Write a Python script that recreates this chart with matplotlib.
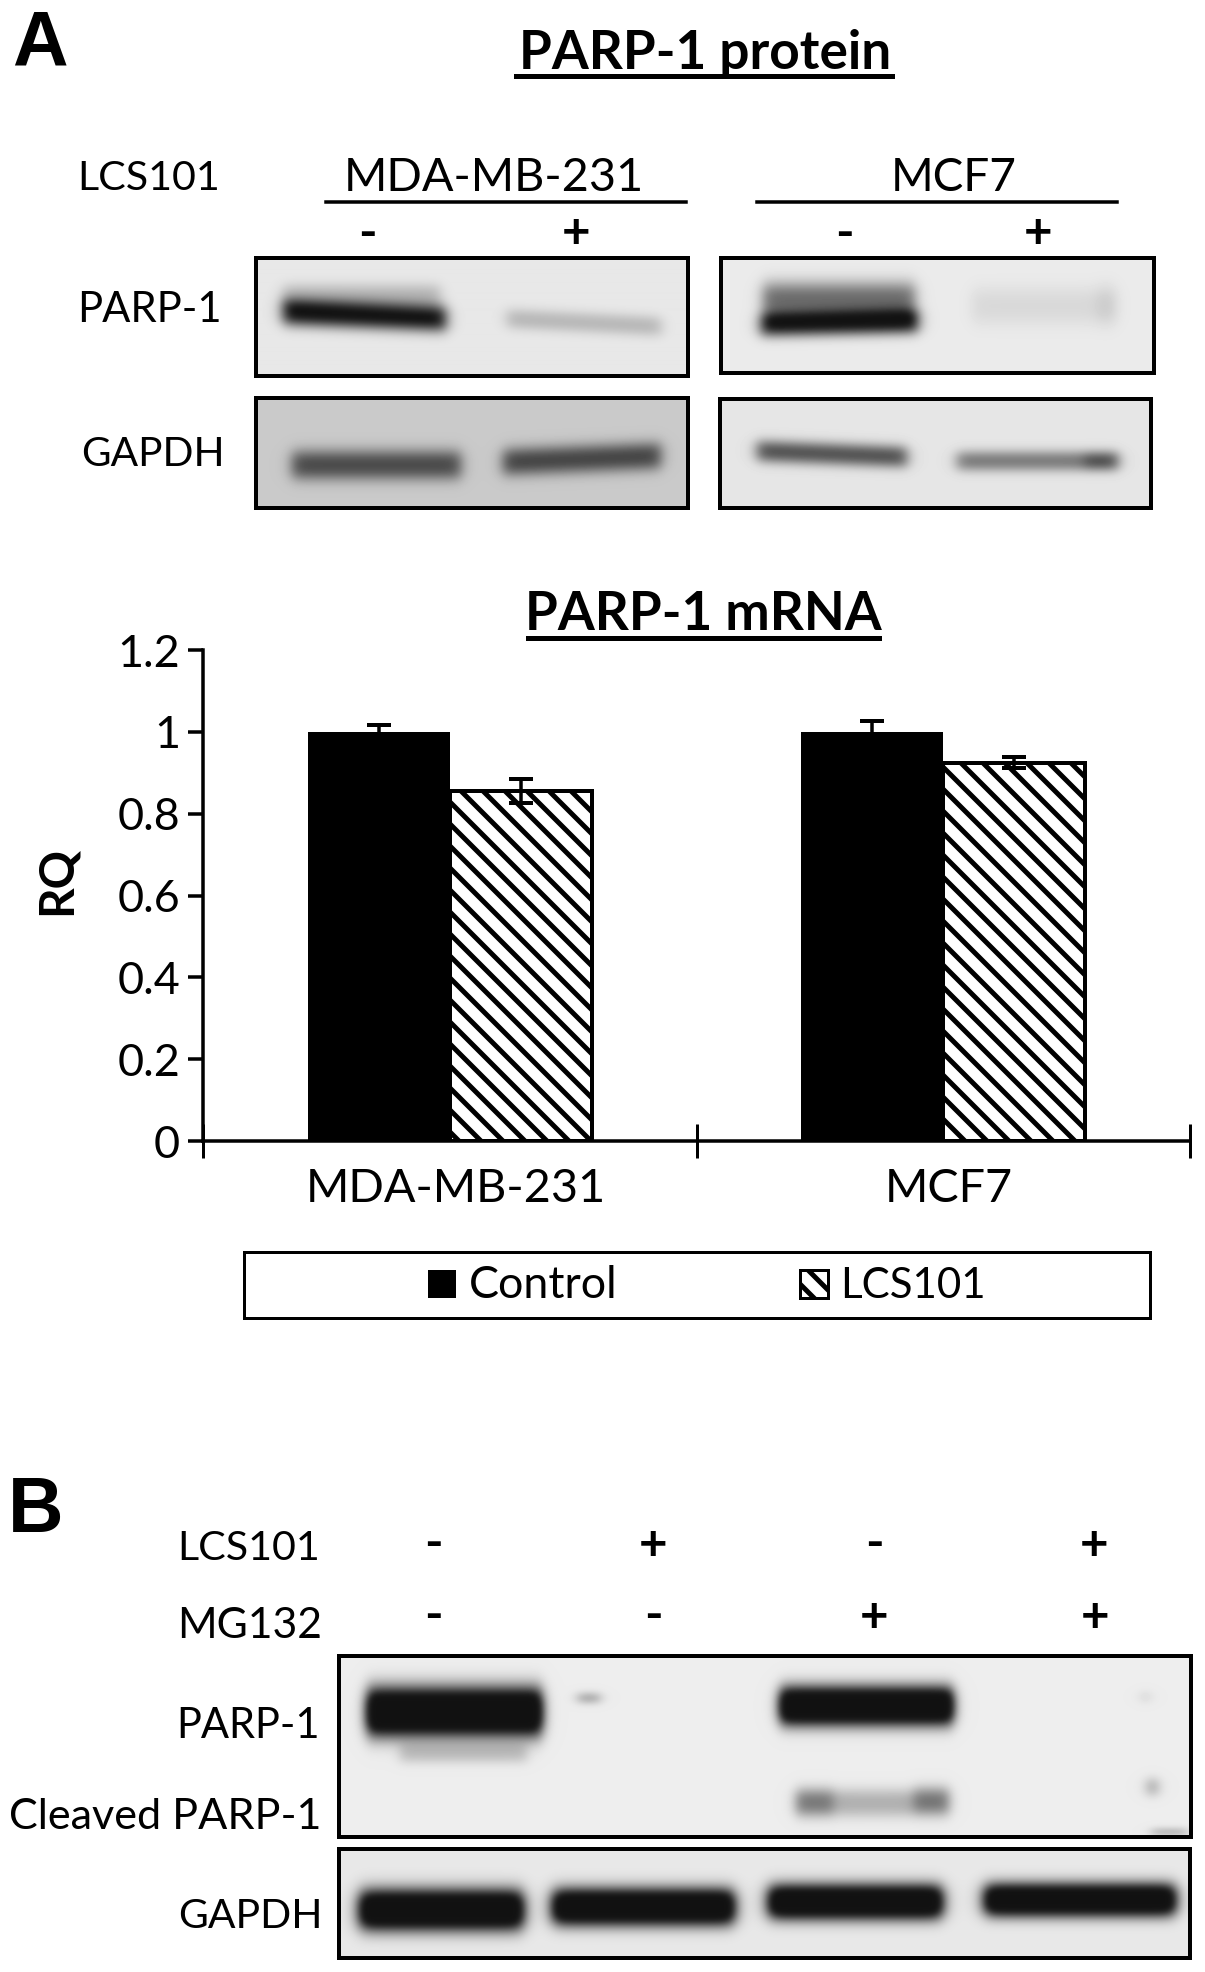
# Figura PARP-1: western blots y barras de mRNA
import numpy as np
import matplotlib
matplotlib.use('Agg')
import matplotlib.pyplot as plt
from matplotlib.patches import Rectangle
from matplotlib.transforms import ScaledTranslation

W, H = 1205, 1972
DPI = 132

plt.rcParams['font.family'] = ['Lato', 'DejaVu Sans']
plt.rcParams['hatch.linewidth'] = 2.7

# Datos de las barras
cell_lines = ['MDA-MB-231', 'MCF7']
control = [1.0, 1.0]
lcs101 = [0.855, 0.925]
control_err = [0.016, 0.026]
lcs101_err = [0.03, 0.014]
y_ticks = [0, 0.2, 0.4, 0.6, 0.8, 1.0, 1.2]
y_tick_labels = ['0', '0.2', '0.4', '0.6', '0.8', '1', '1.2']

# Bandas de los blots: x0, x1, y centro, semialtura, intensidad, inclinacion
a_parp_left = [(283, 446, 316, 13, 0.85, 0.04), (283, 440, 297, 12, 0.20, 0.0),
               (507, 661, 323, 10, 0.19, 0.05)]
a_parp_right = [(761, 918, 323, 12, 0.85, -0.02), (763, 915, 300, 18, 0.50, 0.0),
                (972, 1115, 306, 19, 0.07, 0.0), (1098, 1116, 305, 20, 0.06, 0.0)]
a_gapdh_left = [(292, 461, 465, 15, 0.50, 0.0), (503, 661, 459, 14, 0.52, -0.04)]
a_gapdh_right = [(757, 907, 454, 11, 0.58, 0.04), (957, 1118, 461, 10, 0.42, 0.0),
                 (1085, 1118, 461, 9, 0.18, 0.0)]
b_parp = [(367, 542, 1712, 24, 1.4, 0.0), (400, 527, 1753, 10, 0.18, 0.0),
          (578, 600, 1698, 5, 0.30, 0.0), (780, 953, 1706, 19, 1.4, 0.0),
          (796, 949, 1803, 14, 0.24, 0.0), (796, 833, 1802, 14, 0.22, 0.0),
          (914, 949, 1800, 14, 0.24, 0.0), (1147, 1158, 1787, 9, 0.28, 0.0),
          (1141, 1150, 1697, 6, 0.10, 0.0), (1152, 1187, 1832, 3, 0.30, 0.0)]
b_gapdh = [(360, 523, 1910, 20, 1.35, 0.0), (553, 734, 1907, 18, 1.35, 0.0),
           (769, 942, 1902, 17, 1.35, 0.0), (985, 1175, 1900, 16, 1.35, 0.0)]

fig = plt.figure(figsize=(W / DPI, H / DPI), dpi=DPI, facecolor='white')


def px_axes(x0, y0, x1, y1):
    # ejes colocados con pixeles de la imagen (y hacia abajo)
    return fig.add_axes([x0 / W, 1 - y1 / H, (x1 - x0) / W, (y1 - y0) / H])


def pt(px):
    return px * 72 / DPI


def soften(img, sigma=3.0):
    # desenfoque gaussiano en las dos direcciones
    r = int(3 * sigma)
    k = np.exp(-0.5 * (np.arange(-r, r + 1) / sigma) ** 2)
    k = k / k.sum()
    pad = np.pad(img, r, mode='edge')
    pad = np.apply_along_axis(lambda v: np.convolve(v, k, mode='same'), 0, pad)
    pad = np.apply_along_axis(lambda v: np.convolve(v, k, mode='same'), 1, pad)
    return pad[r:-r, r:-r]


def blot(box, bands, bg, blur=7.0):
    x0, y0, x1, y1 = box
    ax = px_axes(x0, y0, x1, y1)
    xx, yy = np.meshgrid(np.arange(x0, x1) + 0.5, np.arange(y0, y1) + 0.5)
    img = np.full(xx.shape, float(bg))
    for bx0, bx1, yc, hh, amp, tilt in bands:
        across = 0.5 * (np.tanh((xx - bx0) / blur) - np.tanh((xx - bx1) / blur))
        center = yc + tilt * (xx - (bx0 + bx1) / 2)
        along = np.exp(-np.abs((yy - center) / hh) ** 2.5)
        img = img - amp * across * along
    img = soften(np.clip(img, 0.07, 1))
    ax.imshow(img, cmap='gray', vmin=0, vmax=1, aspect='auto',
              extent=(x0, x1, y1, y0), interpolation='bilinear')
    ax.set_xticks([])
    ax.set_yticks([])
    for s in ax.spines.values():
        s.set_linewidth(pt(4))
        s.set_edgecolor('black')
    return ax


blot((256, 258, 688, 376), a_parp_left, 0.91)
blot((721, 258, 1154, 373), a_parp_right, 0.92)
blot((256, 398, 688, 508), a_gapdh_left, 0.79)
blot((720, 399, 1151, 508), a_gapdh_right, 0.90)
blot((339, 1656, 1191, 1837), b_parp, 0.93, blur=6.0)
blot((339, 1849, 1190, 1958), b_gapdh, 0.91, blur=8.0)

# Capa de textos y lineas, en pixeles
over = fig.add_axes([0, 0, 1, 1], zorder=5)
over.set_xlim(0, W)
over.set_ylim(H, 0)
over.axis('off')
over.patch.set_alpha(0)

FS = 24.5


def label(x, y, s, ha='center', size=FS, **kw):
    over.text(x, y + 3, s, ha=ha, va='center', fontsize=size, color='black', **kw)


over.text(40, 45, 'A', ha='center', va='center', fontsize=42, fontweight='bold',
          family='Liberation Sans')
over.text(36, 1511, 'B', ha='center', va='center', fontsize=42, fontweight='bold',
          family='Liberation Sans')

label(705, 50, 'PARP-1 protein', size=29, fontweight='bold')
over.plot([516, 892], [76, 76], color='black', lw=pt(5))
label(703, 611, 'PARP-1 mRNA', size=29, fontweight='bold')
over.plot([528, 879], [638, 638], color='black', lw=pt(5))

label(220, 175, 'LCS101', ha='right', size=22.5)
label(494, 175, 'MDA-MB-231', size=25.5)
label(954, 175, 'MCF7', size=25)
over.plot([326, 686], [202, 202], color='black', lw=pt(3.5))
over.plot([757, 1117], [202, 202], color='black', lw=pt(3.5))
label(222, 307, 'PARP-1', ha='right', size=22.8)
label(225, 452, 'GAPDH', ha='right', size=22.2)

for x, s in zip([367, 576, 844, 1038], ['-', '+', '-', '+']):
    label(x, 231, s, size=27, fontweight='bold')

label(320, 1546, 'LCS101', ha='right', size=22.5)
label(322, 1623, 'MG132', ha='right', size=23.3)
for x, s in zip([433, 653, 874, 1094], ['-', '+', '-', '+']):
    label(x, 1542, s, size=27, fontweight='bold')
for x, s in zip([433, 653, 874, 1095], ['-', '-', '+', '+']):
    label(x, 1614, s, size=27, fontweight='bold')
label(320, 1723, 'PARP-1', ha='right', size=22.7)
label(321, 1814, 'Cleaved PARP-1', ha='right', size=23.5)
label(323, 1913, 'GAPDH', ha='right', size=22.3)

# Leyenda
over.add_patch(Rectangle((244, 1252), 906, 66, fc='white', ec='black', lw=pt(3)))
over.add_patch(Rectangle((428, 1270), 28, 28, fc='black', ec='black', lw=0))
over.add_patch(Rectangle((800, 1270), 28, 28, fc='white', ec='black', lw=pt(3), hatch='\\\\'))
label(469, 1283, 'Control', ha='left')
label(840, 1283, 'LCS101', ha='left', size=23)

# Grafico de barras
ax = px_axes(203, 650, 1190, 1141)
x = np.arange(len(cell_lines))
bar_w = 0.288
ax.bar(x - bar_w / 2, control, bar_w, color='black', edgecolor='black', linewidth=0)
ax.bar(x + bar_w / 2, lcs101, bar_w, color='white', edgecolor='black',
       linewidth=pt(4), hatch='\\\\')
ax.errorbar(x - bar_w / 2, control, yerr=control_err, fmt='none', ecolor='black',
            elinewidth=pt(3.5), capsize=pt(12), capthick=pt(4))
ax.errorbar(x + bar_w / 2, lcs101, yerr=lcs101_err, fmt='none', ecolor='black',
            elinewidth=pt(3.5), capsize=pt(12), capthick=pt(4))

ax.set_xlim(-0.5, 1.5)
ax.set_ylim(0, 1.2)
ax.spines['top'].set_visible(False)
ax.spines['right'].set_visible(False)
ax.spines['left'].set_linewidth(pt(3.5))
ax.spines['bottom'].set_linewidth(pt(3.5))

ax.set_yticks(y_ticks)
ax.set_yticklabels(y_tick_labels, fontsize=FS)
ax.tick_params(axis='y', direction='out', length=pt(15), width=pt(3.5), pad=pt(8))

ax.set_xticks([-0.5, 0.5, 1.5])
ax.set_xticklabels([])
ax.tick_params(axis='x', which='major', direction='inout', length=pt(34), width=pt(3))
ax.set_xticks(x, minor=True)
ax.set_xticklabels(cell_lines, minor=True, fontsize=25.5)
ax.tick_params(axis='x', which='minor', length=0, pad=pt(27))
for t in ax.get_xticklabels(minor=True):
    t.set_transform(t.get_transform() + ScaledTranslation(6 / DPI, 0, fig.dpi_scale_trans))

ax.set_ylabel('RQ', fontsize=26, fontweight='bold')
ax.yaxis.set_label_coords(-0.126, 0.53)
ax.patch.set_alpha(0)

plt.savefig('out.png', dpi=DPI)
